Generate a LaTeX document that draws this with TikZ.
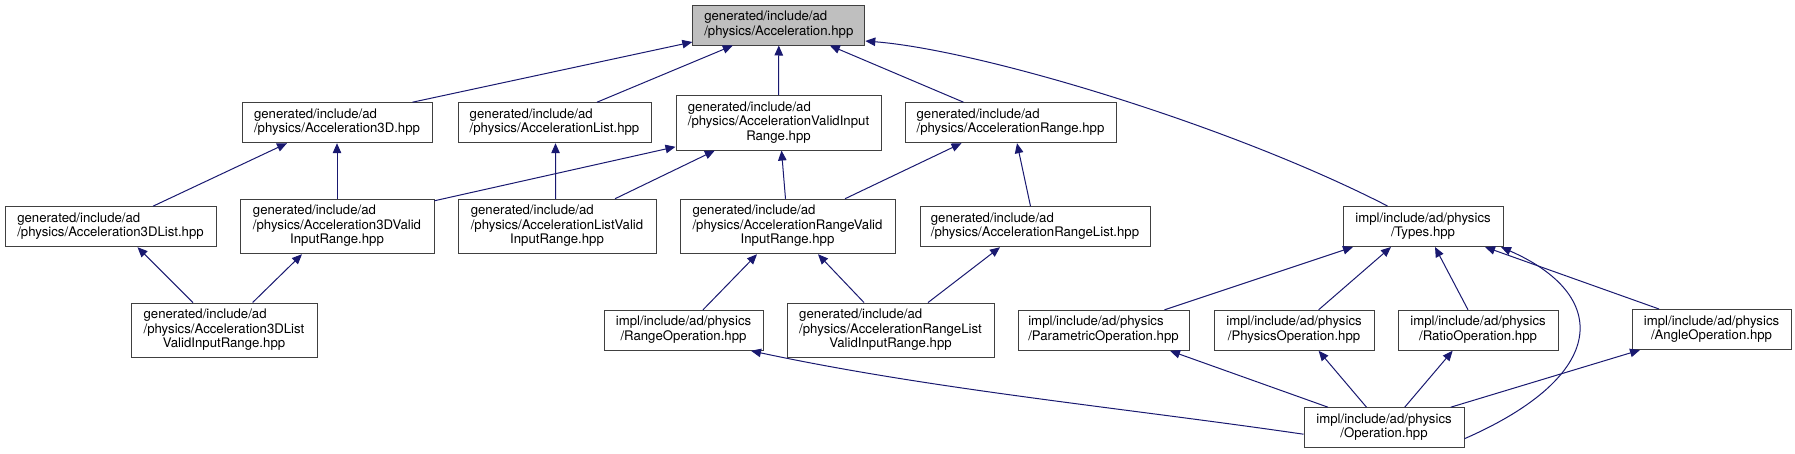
\documentclass[tikz,border=0pt]{standalone}
\usepackage{fontspec}
\setmainfont{TeX Gyre Heros}
\usepackage{xcolor}
\definecolor{edgenavy}{RGB}{25, 25, 112}
\definecolor{boxborder}{RGB}{64, 64, 64}
\definecolor{rootgrey}{RGB}{191, 191, 191}
\usepackage{tikz}
\usetikzlibrary{arrows.meta, positioning, calc}

\newcommand{\twolines}[2]{\begin{tabular}{@{}l@{}}#1\\\multicolumn{1}{@{}c@{}}{#2}\end{tabular}}
\newcommand{\threelines}[3]{\begin{tabular}{@{}l@{}}#1\\#2\\\multicolumn{1}{@{}c@{}}{#3}\end{tabular}}

\tikzset{
    file/.style={draw=boxborder, line width=1pt, fill=white, inner sep=0pt,
        minimum height=40pt, font=\fontsize{13.2}{14.5}\selectfont},
    filetall/.style={file, minimum height=54.5pt},
    dep/.style={draw=edgenavy, line width=1pt, -{Triangle[length=10pt, width=8.5pt]}}
}

\begin{document}
\begin{tikzpicture}[x=1pt, y=-1pt]
    \useasboundingbox (0,0) rectangle (1795,453);

    \node[file, fill=rootgrey, minimum width=172pt] (acc) at (778.8,25) {\twolines{generated/include/ad}{/physics/Acceleration.hpp}};

    \node[file, minimum width=190pt] (acc3d) at (337,122.7) {\twolines{generated/include/ad}{/physics/Acceleration3D.hpp}};
    \node[file, minimum width=193pt] (accList) at (554.5,122.7) {\twolines{generated/include/ad}{/physics/AccelerationList.hpp}};
    \node[filetall, minimum width=205pt] (accValid) at (778.5,122.8) {\threelines{generated/include/ad}{/physics/AccelerationValidInput}{Range.hpp}};
    \node[file, minimum width=211pt] (accRange) at (1010.5,122.7) {\twolines{generated/include/ad}{/physics/AccelerationRange.hpp}};

    \node[file, minimum width=211pt] (acc3dList) at (110.5,226.7) {\twolines{generated/include/ad}{/physics/Acceleration3DList.hpp}};
    \node[filetall, minimum width=194pt] (acc3dValid) at (337,226.5) {\threelines{generated/include/ad}{/physics/Acceleration3DValid}{InputRange.hpp}};
    \node[filetall, minimum width=198pt] (accListValid) at (557,226.5) {\threelines{generated/include/ad}{/physics/AccelerationListValid}{InputRange.hpp}};
    \node[filetall, minimum width=215pt] (accRangeValid) at (787.5,226.5) {\threelines{generated/include/ad}{/physics/AccelerationRangeValid}{InputRange.hpp}};
    \node[file, minimum width=230pt] (accRangeList) at (1035,226.7) {\twolines{generated/include/ad}{/physics/AccelerationRangeList.hpp}};
    \node[file, minimum width=160pt] (types) at (1423,226.5) {\twolines{impl/include/ad/physics}{/Types.hpp}};

    \node[filetall, minimum width=186pt] (acc3dListValid) at (224,330.3) {\threelines{generated/include/ad}{/physics/Acceleration3DList}{ValidInputRange.hpp}};
    \node[file, minimum width=159pt] (rangeOp) at (683.5,330.3) {\twolines{impl/include/ad/physics}{/RangeOperation.hpp}};
    \node[filetall, minimum width=207pt] (accRangeListValid) at (890.5,330.3) {\threelines{generated/include/ad}{/physics/AccelerationRangeList}{ValidInputRange.hpp}};
    \node[file, minimum width=171pt] (paramOp) at (1103.5,330.3) {\twolines{impl/include/ad/physics}{/ParametricOperation.hpp}};
    \node[file, minimum width=160pt] (physicsOp) at (1294,330.3) {\twolines{impl/include/ad/physics}{/PhysicsOperation.hpp}};
    \node[file, minimum width=160pt] (ratioOp) at (1478,330.3) {\twolines{impl/include/ad/physics}{/RatioOperation.hpp}};
    \node[file, minimum width=159pt] (angleOp) at (1711.5,329.5) {\twolines{impl/include/ad/physics}{/AngleOperation.hpp}};

    \node[file, minimum width=160pt] (operation) at (1384,427.7) {\twolines{impl/include/ad/physics}{/Operation.hpp}};

    \draw[dep] ([xshift=75.5]acc3d.north) -- ([yshift=-17]acc.west);
    \draw[dep] ([xshift=42.5]accList.north) -- ([xshift=-46]acc.south);
    \draw[dep] (accValid.north) -- (acc.south);
    \draw[dep] ([xshift=-47]accRange.north) -- ([xshift=51]acc.south);
    \draw[dep] ([xshift=-35.5]types.north) .. controls (1230,125) and (980,50) .. ([yshift=-16]acc.east);

    \draw[dep] ([xshift=42.5]acc3dList.north) -- ([xshift=-50]acc3d.south);
    \draw[dep] (acc3dValid.north) -- (acc3d.south);
    \draw[dep] ([yshift=-2]acc3dValid.north east) -- ([yshift=-24]accValid.west);
    \draw[dep] ([xshift=-1.3]accListValid.north) -- ([xshift=1]accList.south);
    \draw[dep] ([xshift=58]accListValid.north) -- ([xshift=-63.7]accValid.south);
    \draw[dep] ([xshift=-2]accRangeValid.north) -- ([xshift=3]accValid.south);
    \draw[dep] ([xshift=57.5]accRangeValid.north) -- ([xshift=-49]accRange.south);
    \draw[dep] ([xshift=-4.5]accRangeList.north) -- ([xshift=6.5]accRange.south);

    \draw[dep] ([xshift=-31]acc3dListValid.north) -- ([xshift=27]acc3dList.south);
    \draw[dep] ([xshift=28.6]acc3dListValid.north) -- ([xshift=-35]acc3dValid.south);
    \draw[dep] ([xshift=19.5]rangeOp.north) -- ([xshift=-30.5]accRangeValid.south);
    \draw[dep] ([xshift=-26.5]accRangeListValid.north) -- ([xshift=30.5]accRangeValid.south);
    \draw[dep] ([xshift=37.5]accRangeListValid.north) -- ([xshift=-35]accRangeList.south);

    \draw[dep] ([xshift=61]paramOp.north) -- ([xshift=-70]types.south);
    \draw[dep] ([xshift=24.6]physicsOp.north) -- ([xshift=-32]types.south);
    \draw[dep] ([xshift=-10]ratioOp.north) -- ([xshift=12]types.south);
    \draw[dep] ([xshift=-52.5]angleOp.north) -- ([xshift=62]types.south);

    \draw[dep] ([yshift=-11]operation.east) .. controls (1610,375) and (1610,295) .. ([xshift=78]types.south);
    \draw[dep] ([yshift=-6.5]operation.west) .. controls (1124,408) and (931,389.3) .. ([xshift=67.5]rangeOp.south);
    \draw[dep] ([xshift=-56]operation.north) -- ([xshift=66.5]paramOp.south);
    \draw[dep] ([xshift=-17.5]operation.north) -- ([xshift=24.6]physicsOp.south);
    \draw[dep] ([xshift=20.7]operation.north) -- ([xshift=-25.4]ratioOp.south);
    \draw[dep] ([xshift=66.7]operation.north) -- ([xshift=-71.5]angleOp.south);
\end{tikzpicture}
\end{document}
